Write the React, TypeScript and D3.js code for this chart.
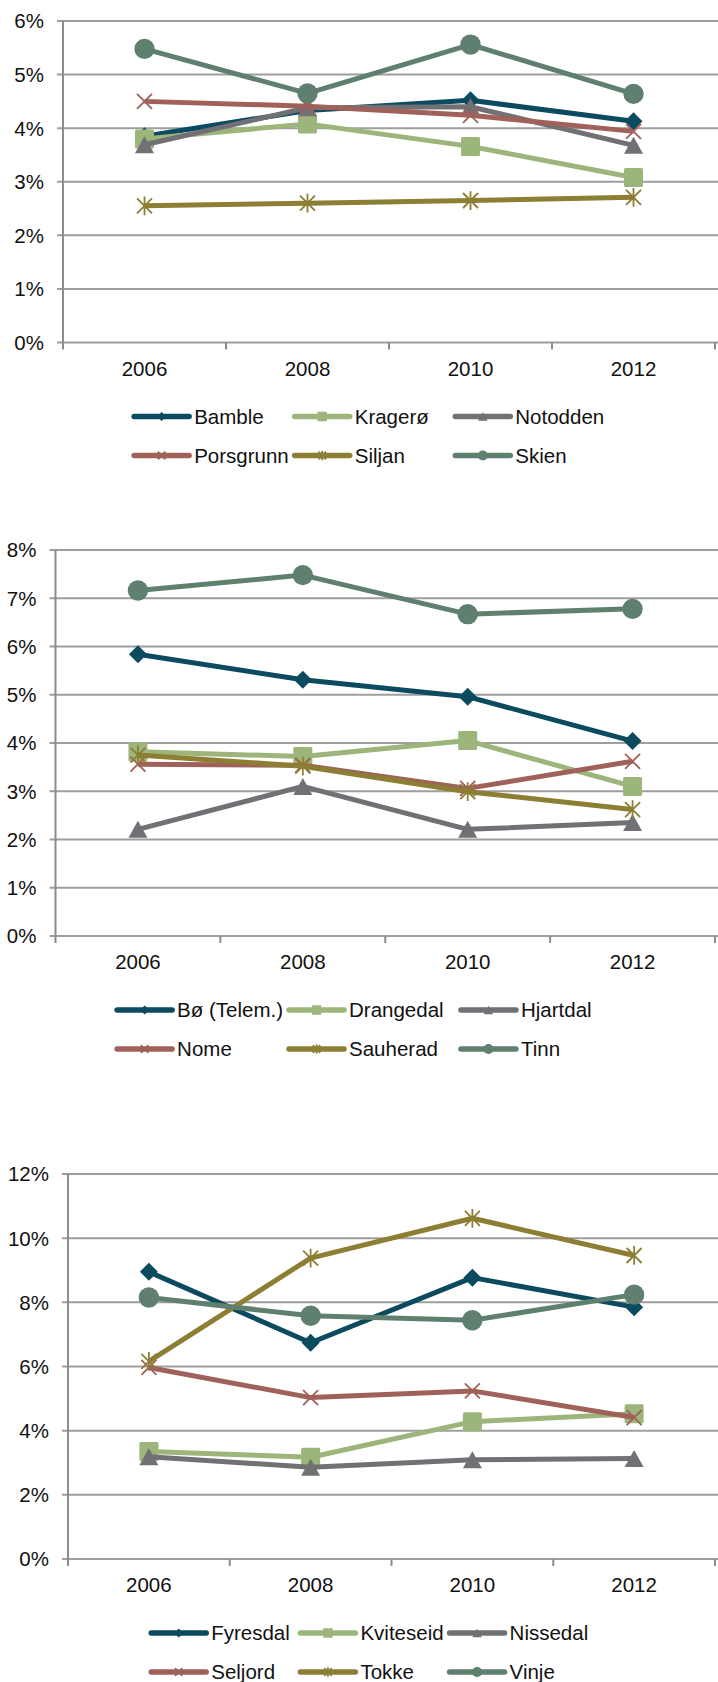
import * as d3 from 'd3';

const years = ['2006', '2008', '2010', '2012'];

// øvre Telemark / byer
const names1 = ['Bamble', 'Kragerø', 'Notodden', 'Porsgrunn', 'Siljan', 'Skien'];
const bamble = [3.85, 4.33, 4.52, 4.13];
const krageroe = [3.8, 4.08, 3.66, 3.08];
const notodden = [3.69, 4.38, 4.4, 3.68];
const porsgrunn = [4.5, 4.41, 4.24, 3.94];
const siljan = [2.55, 2.6, 2.65, 2.71];
const skien = [5.48, 4.65, 5.56, 4.64];

const names2 = ['Bø (Telem.)', 'Drangedal', 'Hjartdal', 'Nome', 'Sauherad', 'Tinn'];
const boe = [5.84, 5.31, 4.96, 4.04];
const drangedal = [3.82, 3.72, 4.05, 3.1];
const hjartdal = [2.21, 3.1, 2.21, 2.35];
const nome = [3.56, 3.54, 3.06, 3.62];
const sauherad = [3.75, 3.52, 2.99, 2.62];
const tinn = [7.16, 7.48, 6.67, 6.78];

const names3 = ['Fyresdal', 'Kviteseid', 'Nissedal', 'Seljord', 'Tokke', 'Vinje'];
const fyresdal = [8.95, 6.74, 8.77, 7.85];
const kviteseid = [3.35, 3.17, 4.28, 4.53];
const nissedal = [3.19, 2.86, 3.09, 3.13];
const seljord = [5.97, 5.03, 5.24, 4.41];
const tokke = [6.16, 9.38, 10.62, 9.46];
const vinje = [8.15, 7.58, 7.44, 8.24];

const colors = ['#0b4a5f', '#9bb57a', '#707075', '#a0615a', '#8c7e33', '#5f7f6f'];
const markers = ['diamond', 'square', 'triangle', 'x', 'star', 'circle'];

const FONT = "'Liberation Sans', Arial, sans-serif";
const FS = 20.5;

const charts = [
  { names: names1, series: [bamble, krageroe, notodden, porsgrunn, siljan, skien], yMax: 6, step: 1, top: 21, bottom: 342.5, left: 63 },
  { names: names2, series: [boe, drangedal, hjartdal, nome, sauherad, tinn], yMax: 8, step: 1, top: 550, bottom: 936, left: 55.5 },
  { names: names3, series: [fyresdal, kviteseid, nissedal, seljord, tokke, vinje], yMax: 12, step: 2, top: 1174, bottom: 1559, left: 68 },
];

let ctx: CanvasRenderingContext2D | null = null;
const textWidth = (s: string) => {
  if (!ctx) ctx = document.createElement('canvas').getContext('2d');
  if (!ctx) return s.length * FS * 0.55;
  ctx.font = `${FS}px ${FONT}`;
  return ctx.measureText(s).width;
};

const Marker = ({ type, x, y, color, s = 1 }) => {
  if (type === 'diamond') {
    const r = 9 * s;
    return <path d={`M${x},${y - r}L${x + r},${y}L${x},${y + r}L${x - r},${y}Z`} fill={color} />;
  }
  if (type === 'square') {
    const r = 9.5 * s;
    return <rect x={x - r} y={y - r} width={2 * r} height={2 * r} rx={1.5 * s} fill={color} />;
  }
  if (type === 'triangle') {
    const w = 9.5 * s;
    const h = 8.5 * s;
    return <path d={`M${x},${y - h}L${x + w},${y + h}L${x - w},${y + h}Z`} fill={color} />;
  }
  if (type === 'circle') return <circle cx={x} cy={y} r={10.2 * s} fill={color} />;
  const r = 7.5 * s;
  let d = `M${x - r},${y - r}L${x + r},${y + r}M${x + r},${y - r}L${x - r},${y + r}`;
  if (type === 'star') d += `M${x},${y - r * 1.25}L${x},${y + r * 1.25}`;
  return <path d={d} stroke={color} strokeWidth={1.8} fill="none" />;
};

const Chart = ({ names, series, yMax, step, top, bottom, left }) => {
  const right = 715;
  const x = d3.scaleBand().domain(years).range([left, right]).padding(0);
  const y = d3.scaleLinear().domain([0, yMax]).range([bottom, top]);
  const cx = (yr: string) => (x(yr) as number) + x.bandwidth() / 2;
  const ticks = d3.range(0, yMax + 0.001, step);
  const line = d3
    .line<number>()
    .x((_, i) => cx(years[i]))
    .y((v) => y(v));

  const colW = d3.max(names, (n: string) => textWidth(n)) + 66;
  const legStart = 375 - (colW * 3) / 2;

  return (
    <g>
      {ticks.map((t) => (
        <g key={t}>
          <line x1={left - 6} x2={718} y1={y(t)} y2={y(t)} stroke="#9e9e9e" strokeWidth={2} />
          <text x={left - 19} y={y(t)} dy="0.36em" textAnchor="end" fontSize={FS} fontFamily={FONT} fill="#111">
            {t}%
          </text>
        </g>
      ))}
      <line x1={left} x2={left} y1={top} y2={bottom} stroke="#8c8c8c" strokeWidth={2} />
      {[...years.map((yr) => x(yr) as number), right].map((tx, i) => (
        <line key={i} x1={tx} x2={tx} y1={bottom} y2={bottom + 7} stroke="#8c8c8c" strokeWidth={2} />
      ))}
      {years.map((yr) => (
        <text key={yr} x={cx(yr)} y={bottom + 26} dy="0.36em" textAnchor="middle" fontSize={FS} fontFamily={FONT} fill="#111">
          {yr}
        </text>
      ))}
      {series.map((vals, si) => (
        <g key={si}>
          <path d={line(vals)} fill="none" stroke={colors[si]} strokeWidth={5} strokeLinejoin="round" />
          {vals.map((v, i) => (
            <Marker key={i} type={markers[si]} x={cx(years[i])} y={y(v)} color={colors[si]} />
          ))}
        </g>
      ))}
      {names.map((n, i) => {
        const lx = legStart + (i % 3) * colW;
        const ly = bottom + 74 + Math.floor(i / 3) * 39;
        return (
          <g key={n}>
            <line x1={lx} x2={lx + 55} y1={ly} y2={ly} stroke={colors[i]} strokeWidth={5.5} strokeLinecap="round" />
            <Marker type={markers[i]} x={lx + 27.5} y={ly} color={colors[i]} s={0.5} />
            <text x={lx + 60} y={ly} dy="0.36em" fontSize={FS} fontFamily={FONT} fill="#111">
              {n}
            </text>
          </g>
        );
      })}
    </g>
  );
};

export default function App() {
  return (
    <svg
      width={718}
      height={1682}
      style={{ position: 'absolute', left: 0, top: 0, display: 'block', background: '#fff' }}
    >
      {charts.map((c, i) => (
        <Chart key={i} {...c} />
      ))}
    </svg>
  );
}
